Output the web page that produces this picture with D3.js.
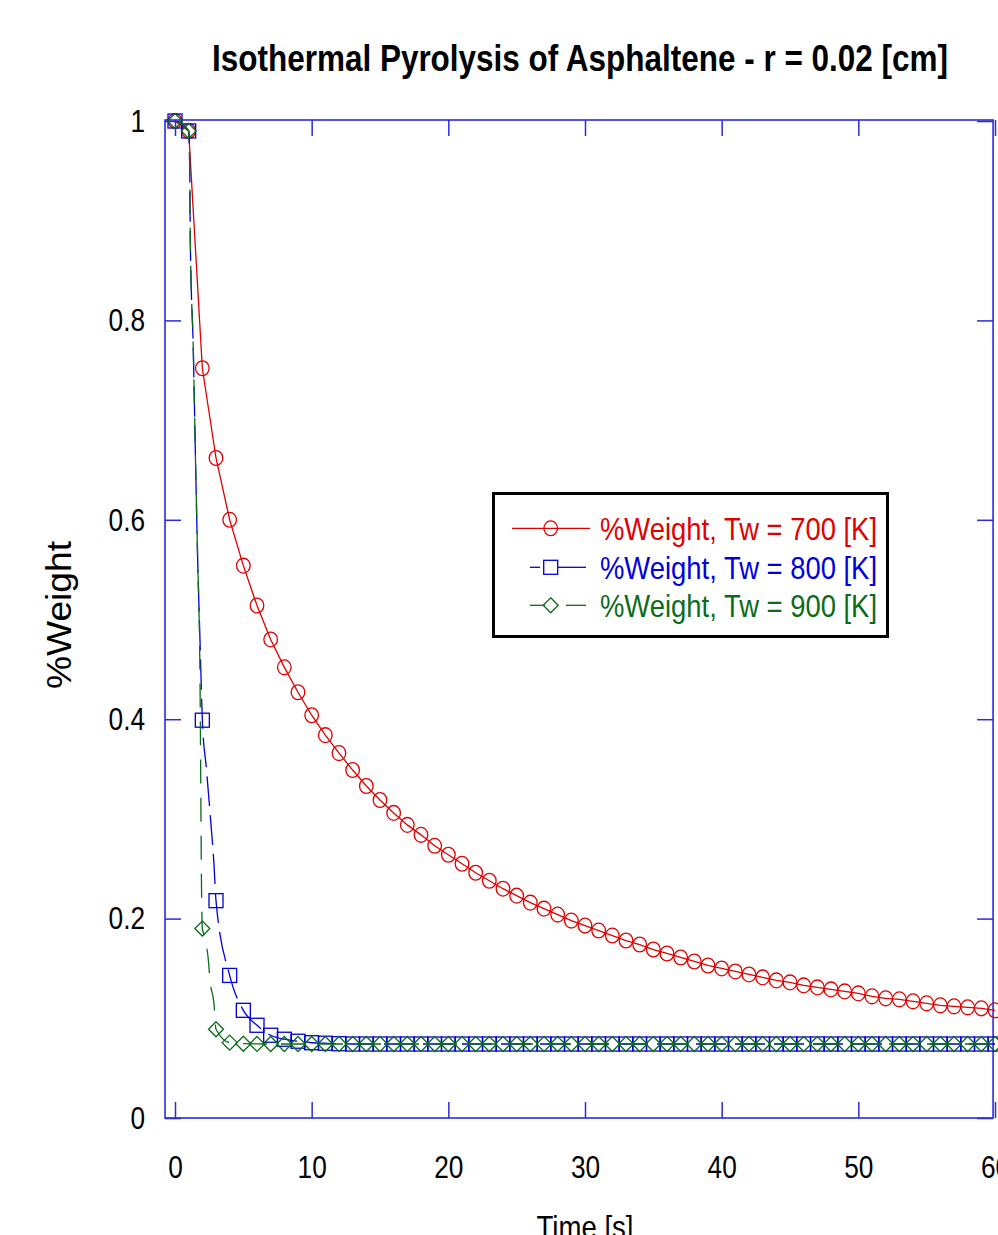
<!DOCTYPE html>
<html><head><meta charset="utf-8">
<script src="https://cdn.jsdelivr.net/npm/d3@7"></script>
<style>html,body{margin:0;padding:0;background:#fff;overflow:hidden}</style>
</head><body><svg id="chart" width="998" height="1235"></svg>
<script>
// ---------- data ----------
const time = [0,1,2,3,4,5,6,7,8,9,
  10,11,12,13,14,15,16,17,18,19,
  20,21,22,23,24,25,26,27,28,29,
  30,31,32,33,34,35,36,37,38,39,
  40,41,42,43,44,45,46,47,48,49,
  50,51,52,53,54,55,56,57,58,59,60];
const w700 = [1.0,0.99,0.752,0.662,0.600,0.554,0.514,0.480,0.452,0.427,
  0.404,0.384,0.366,0.349,0.333,0.319,0.306,0.294,0.284,0.273,
  0.264,0.255,0.246,0.238,0.230,0.223,0.216,0.210,0.204,0.198,
  0.193,0.188,0.183,0.178,0.174,0.169,0.165,0.161,0.157,0.153,
  0.150,0.147,0.144,0.141,0.138,0.136,0.133,0.131,0.129,0.127,
  0.125,0.122,0.120,0.119,0.117,0.115,0.113,0.112,0.111,0.110,0.108];
const w800 = [1.0,0.99,0.399,0.218,0.143,0.108,0.093,0.083,0.079,0.077,
  0.0755,0.075,0.0745,0.0742,0.0742,0.0742,0.0742,0.0742,0.0742,0.0742,
  0.0742,0.0742,0.0742,0.0742,0.0742,0.0742,0.0742,0.0742,0.0742,0.0742,
  0.0742,0.0742,0.0742,0.0742,0.0742,0.0742,0.0742,0.0742,0.0742,0.0742,
  0.0742,0.0742,0.0742,0.0742,0.0742,0.0742,0.0742,0.0742,0.0742,0.0742,
  0.0742,0.0742,0.0742,0.0742,0.0742,0.0742,0.0742,0.0742,0.0742,0.0742,0.0742];
const w900 = [1.0,0.99,0.190,0.089,0.0756,0.0745,0.0743,0.0742,0.0742,0.0742,
  0.0742,0.0742,0.0742,0.0742,0.0742,0.0742,0.0742,0.0742,0.0742,0.0742,
  0.0742,0.0742,0.0742,0.0742,0.0742,0.0742,0.0742,0.0742,0.0742,0.0742,
  0.0742,0.0742,0.0742,0.0742,0.0742,0.0742,0.0742,0.0742,0.0742,0.0742,
  0.0742,0.0742,0.0742,0.0742,0.0742,0.0742,0.0742,0.0742,0.0742,0.0742,
  0.0742,0.0742,0.0742,0.0742,0.0742,0.0742,0.0742,0.0742,0.0742,0.0742,0.0742];
// extra points of the drawn curves (between markers)
const line800T = [1.08,1.12,1.34,1.5,1.65,1.85,2.3,2.6,2.85];
const line800W = [0.95,0.88,0.77,0.66,0.565,0.47,0.35,0.30,0.255];
const line900T = [1.08,1.12,1.34,1.5,1.65,1.83,1.95,2.16,2.45,2.56,2.85];
const line900W = [0.95,0.88,0.77,0.66,0.565,0.44,0.22,0.182,0.157,0.138,0.115];

const xTicks = [0,10,20,30,40,50,60];
const xTickLabels = ["0","10","20","30","40","50","60"];
const yTicks = [0,0.2,0.4,0.6,0.8,1];
const yTickLabels = ["0","0.2","0.4","0.6","0.8","1"];
const seriesNames = ["%Weight, Tw = 700 [K]","%Weight, Tw = 800 [K]","%Weight, Tw = 900 [K]"];
const titleText = "Isothermal Pyrolysis of Asphaltene - r = 0.02 [cm]";
const xLabel = "Time [s]";
const yLabel = "%Weight";

// ---------- layout ----------
const FONT = "'Liberation Sans', Arial, sans-serif";
const RED = "#e00000", BLUE = "#0000dd", GREEN = "#0b6b1b", FRAME = "#2a2ae6";
const svg = d3.select("#chart");
const x = d3.scaleLinear().domain([0,60]).range([175,995]);
const y = d3.scaleLinear().domain([0,1]).range([1118,121]);
const frameX0 = x(-0.73), frameX1 = x(59.86), frameY0 = 120, frameY1 = y(0);

// title
svg.append("text").attr("x",580).attr("y",71).attr("text-anchor","middle")
  .attr("font-family",FONT).attr("font-weight","bold").attr("font-size",37)
  .attr("textLength",736).attr("lengthAdjust","spacingAndGlyphs")
  .text(titleText);

// frame
svg.append("rect").attr("x",frameX0).attr("y",frameY0)
  .attr("width",frameX1-frameX0).attr("height",frameY1-frameY0)
  .attr("fill","none").attr("stroke",FRAME).attr("stroke-width",1.6);

function styleAxis(g){
  g.select(".domain").remove();
  g.selectAll(".tick line").attr("stroke",FRAME).attr("stroke-width",1.5);
}
// bottom
svg.append("g").attr("transform",`translate(0,${frameY1})`)
  .call(d3.axisBottom(x).tickValues(xTicks).tickSizeInner(-16).tickSizeOuter(0)
    .tickPadding(37.3).tickFormat((d,i)=>xTickLabels[i]))
  .call(styleAxis)
  .call(g=>g.selectAll("text").attr("font-family",FONT).attr("font-size",32)
    .attr("fill","#000").attr("transform","scale(0.82,1)"));
// top
svg.append("g").attr("transform",`translate(0,${frameY0})`)
  .call(d3.axisTop(x).tickValues(xTicks).tickSizeInner(-16).tickSizeOuter(0).tickFormat(""))
  .call(styleAxis);
// left
svg.append("g").attr("transform",`translate(${frameX0},0)`)
  .call(d3.axisLeft(y).tickValues(yTicks).tickSizeInner(-16).tickSizeOuter(0)
    .tickPadding(24.4).tickFormat((d,i)=>yTickLabels[i]))
  .call(styleAxis)
  .call(g=>g.selectAll("text").attr("font-family",FONT).attr("font-size",32)
    .attr("fill","#000").attr("transform","scale(0.82,1)"));
// right
svg.append("g").attr("transform",`translate(${frameX1},0)`)
  .call(d3.axisRight(y).tickValues(yTicks).tickSizeInner(-16).tickSizeOuter(0).tickFormat(""))
  .call(styleAxis);

// axis labels
svg.append("text").attr("x",585).attr("y",1238).attr("text-anchor","middle")
  .attr("font-family",FONT).attr("font-size",32)
  .attr("textLength",97).attr("lengthAdjust","spacingAndGlyphs").text(xLabel);
svg.append("text").attr("transform","translate(71,615) rotate(-90)").attr("text-anchor","middle")
  .attr("font-family",FONT).attr("font-size",35)
  .attr("textLength",148).attr("lengthAdjust","spacingAndGlyphs").text(yLabel);

// ---------- series ----------
function pts(T,W){ return T.map((t,i)=>({t:t,w:W[i]})); }
function merged(T,W,ET,EW){ return pts(T,W).concat(pts(ET,EW)).sort((a,b)=>a.t-b.t); }
const lineLinear = d3.line().x(d=>x(d.t)).y(d=>y(d.w));
const lineSmooth = d3.line().x(d=>x(d.t)).y(d=>y(d.w)).curve(d3.curveMonotoneX);

const series = [
  {name:seriesNames[0], color:RED, dash:null, gen:lineLinear, line:pts(time,w700), marks:pts(time,w700), shape:"circle"},
  {name:seriesNames[1], color:BLUE, dash:"30,9", gen:lineSmooth, line:merged(time,w800,line800T,line800W), marks:pts(time,w800), shape:"square"},
  {name:seriesNames[2], color:GREEN, dash:"24,14", gen:lineSmooth, line:merged(time,w900,line900T,line900W), marks:pts(time,w900), shape:"diamond"}
];

function drawMarker(sel, shape, color){
  if(shape==="circle"){
    sel.append("ellipse").attr("rx",6.8).attr("ry",7.4);
  } else if(shape==="square"){
    sel.append("rect").attr("x",-7).attr("y",-7).attr("width",14).attr("height",14);
  } else {
    sel.append("path").attr("d","M0,-7.5L7.5,0L0,7.5L-7.5,0Z");
  }
  sel.selectAll("ellipse,rect,path").attr("fill","none").attr("stroke",color).attr("stroke-width",1.3);
}

series.forEach(s=>{
  const g = svg.append("g");
  g.append("path").datum(s.line).attr("d",s.gen).attr("fill","none")
    .attr("stroke",s.color).attr("stroke-width",1.3)
    .attr("stroke-dasharray",s.dash);
  g.selectAll("g.m").data(s.marks).join("g").attr("class","m")
    .attr("transform",d=>`translate(${x(d.t)},${y(d.w)})`)
    .each(function(){ drawMarker(d3.select(this), s.shape, s.color); });
});

// ---------- legend ----------
const lg = svg.append("g");
lg.append("rect").attr("x",493.5).attr("y",493.5).attr("width",394).attr("height",143)
  .attr("fill","#fff").attr("stroke","#000").attr("stroke-width",3);
const rowsY = [528.3,567.3,605.3];
const legSegs = [[[512,590]],[[530,540],[558,586]],[[530,545],[566,586]]];
series.forEach((s,i)=>{
  const ry = rowsY[i];
  legSegs[i].forEach(sg=>{
    lg.append("line").attr("x1",sg[0]).attr("x2",sg[1]).attr("y1",ry).attr("y2",ry)
      .attr("stroke",s.color).attr("stroke-width",1.3);
  });
  const m = lg.append("g").attr("transform",`translate(550.7,${ry})`);
  drawMarker(m, s.shape, s.color);
  lg.append("text").attr("x",600).attr("y",ry+11.7).attr("font-family",FONT).attr("font-size",32)
    .attr("fill",s.color).attr("textLength",277).attr("lengthAdjust","spacingAndGlyphs").text(s.name);
});
</script></body></html>
